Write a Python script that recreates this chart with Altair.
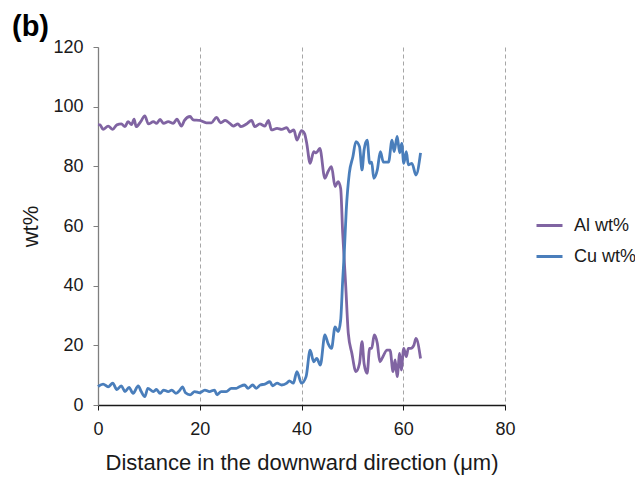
import altair as alt
import pandas as pd

series_names = ["Al wt%", "Cu wt%"]
series_colors = ["#8064A2", "#4A7EBB"]
panel_label = ["(b)"]

al_x = [0.0, 0.4, 1.0, 2.0, 2.9, 3.7, 4.6, 5.3, 5.9, 6.6, 7.1, 7.5, 8.4, 9.2, 9.9,
        10.9, 11.5, 12.2, 12.9, 13.8, 14.8, 15.5, 16.4, 17.0, 18.1, 18.7, 20.0,
        21.3, 22.3, 23.3, 24.1, 25.0, 25.9, 26.6, 27.5, 28.1, 29.2, 30.2, 30.8,
        31.8, 32.8, 33.5, 34.1, 35.2, 36.1, 37.1, 37.7, 38.5, 39.1, 40.0, 40.6,
        41.0, 41.7, 42.4, 42.9, 43.6, 44.6, 45.2, 45.9, 46.6, 47.2, 47.7, 48.1,
        48.4, 48.7, 49.2, 49.9, 50.7, 51.4, 51.9, 52.3, 52.9, 53.4, 53.8, 54.3,
        54.9, 55.4, 56.0, 56.8, 57.4, 58.0, 58.4, 58.8, 59.3, 59.6, 60.1, 60.6,
        61.0, 61.5, 62.1, 62.5, 63.4]
al_wt = [94.0, 93.9, 92.4, 93.5, 92.4, 93.9, 94.2, 93.3, 95.0, 94.0, 95.8, 93.3,
         95.0, 96.9, 94.2, 95.0, 94.4, 95.7, 94.4, 95.0, 94.4, 95.8, 93.5, 95.4,
         96.7, 95.6, 95.4, 94.6, 94.6, 96.4, 94.6, 95.4, 94.4, 93.5, 94.2, 93.3,
         94.2, 95.4, 93.3, 94.2, 93.5, 95.4, 92.2, 92.7, 92.4, 93.0, 91.5, 92.2,
         88.8, 92.0, 91.0, 88.0, 81.0, 84.9, 84.5, 86.0, 76.0, 78.2, 79.9, 73.2,
         74.9, 72.6, 57.5, 48.6, 39.7, 24.0, 17.3, 11.2, 13.9, 21.2, 13.9, 10.6,
         19.0, 19.0, 23.5, 20.7, 14.5, 16.2, 18.4, 18.4, 11.2, 15.1, 9.5, 17.3,
         11.7, 19.0, 16.2, 19.0, 19.0, 20.1, 22.3, 15.6]

cu_x = [0.0, 1.0, 2.0, 2.9, 3.7, 4.6, 5.3, 6.1, 6.9, 7.9, 8.5, 9.2, 9.8, 10.9,
        11.5, 12.2, 12.9, 13.8, 14.5, 15.3, 16.1, 16.6, 17.2, 18.1, 19.0, 20.0,
        21.0, 21.9, 22.9, 23.4, 24.2, 25.2, 26.2, 27.2, 27.8, 28.8, 29.5, 30.4,
        31.1, 31.9, 32.8, 33.8, 34.3, 35.2, 36.1, 37.1, 37.6, 38.4, 39.1, 40.0,
        40.9, 41.7, 42.4, 43.0, 43.7, 44.6, 45.2, 45.9, 46.6, 47.2, 47.7, 48.1,
        48.4, 48.8, 49.4, 50.1, 50.7, 51.4, 51.9, 52.3, 52.9, 53.4, 53.8, 54.2,
        54.9, 55.5, 56.1, 57.1, 57.8, 58.2, 58.8, 59.3, 59.7, 60.1, 60.6, 61.0,
        61.7, 62.5, 63.4]
cu_wt = [6.2, 7.0, 6.1, 7.3, 5.2, 6.4, 4.5, 5.9, 3.9, 6.4, 4.5, 2.8, 5.6, 4.5,
         5.2, 3.9, 5.0, 4.5, 5.0, 3.9, 5.0, 6.1, 4.1, 3.4, 4.5, 4.1, 5.0, 4.5,
         5.0, 3.4, 4.5, 4.5, 5.6, 5.6, 6.1, 6.7, 5.6, 6.7, 5.6, 6.7, 7.0, 7.8,
         6.4, 7.3, 6.7, 7.3, 8.1, 7.3, 11.2, 7.3, 9.5, 18.4, 14.5, 15.6, 13.4,
         23.5, 20.7, 19.0, 26.2, 24.6, 28.5, 41.9, 50.8, 65.4, 77.7, 83.2, 88.3,
         86.6, 78.8, 85.5, 88.8, 81.0, 81.4, 76.0, 78.8, 84.9, 81.4, 81.4, 88.8,
         84.9, 90.0, 84.5, 87.7, 81.0, 84.9, 80.5, 81.0, 77.1, 84.5]

x_ticks = [0, 20, 40, 60, 80]
y_ticks = [0, 20, 40, 60, 80, 100, 120]

df = pd.concat([
    pd.DataFrame({"x": al_x, "wt": al_wt, "series": series_names[0], "order": range(len(al_x))}),
    pd.DataFrame({"x": cu_x, "wt": cu_wt, "series": series_names[1], "order": range(len(cu_x))}),
])

FONT = "Liberation Sans"

lines = alt.Chart(df).mark_line(strokeWidth=2.8, interpolate="monotone").encode(
    x=alt.X("x:Q", scale=alt.Scale(domain=[0, 80], nice=False),
            axis=alt.Axis(values=x_ticks, title="Distance in the downward direction (\u03bcm)",
                          grid=True, gridDash=[4, 3], gridColor="#a6a6a6", gridWidth=1,
                          domainColor="#1a1a1a", tickColor="#1a1a1a", tickSize=5,
                          labelFlush=False, labelPadding=10, titlePadding=14)),
    y=alt.Y("wt:Q", scale=alt.Scale(domain=[0, 120], nice=False),
            axis=alt.Axis(values=y_ticks, title="wt%", grid=False,
                          domainColor="#7f7f7f", tickColor="#7f7f7f", tickSize=5,
                          labelPadding=10, titlePadding=10)),
    color=alt.Color("series:N", scale=alt.Scale(domain=series_names, range=series_colors),
                    legend=alt.Legend(title=None, orient="none", legendX=437, legendY=164,
                                      symbolType="stroke", symbolSize=676, symbolStrokeWidth=3,
                                      labelFontSize=18, labelFont=FONT, labelColor="#1a1a1a",
                                      labelOffset=10, rowPadding=7, padding=0)),
    order="order:Q",
)

label = alt.Chart(pd.DataFrame({"t": panel_label})).mark_text(
    font=FONT, fontSize=29, fontWeight="bold", color="#000000",
    align="left", baseline="alphabetic",
).encode(x=alt.value(-86), y=alt.value(-11), text="t:N")

chart = alt.layer(lines, label).properties(
    width=407, height=358,
    padding={"left": 90, "top": 39, "right": 130, "bottom": 70},
    autosize=alt.AutoSizeParams(type="none"),
).configure_axis(
    labelFont=FONT, labelFontSize=18, labelColor="#1a1a1a",
    titleFont=FONT, titleFontSize=22, titleColor="#1a1a1a", titleFontWeight="normal",
    domainWidth=1.3,
).configure_view(stroke=None)

chart.save("out.html", embed_options={"renderer": "svg", "actions": False})
